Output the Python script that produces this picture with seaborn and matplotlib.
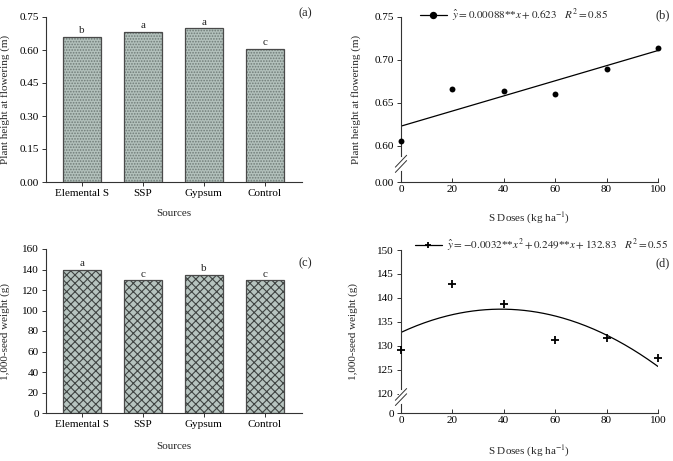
import numpy as np
import pandas as pd
import seaborn as sns
import matplotlib as mpl
import matplotlib.pyplot as plt
from matplotlib.lines import Line2D
from matplotlib.patches import Rectangle

mpl.use('Agg')

# ---- data ----
sources = ['Elemental S', 'SSP', 'Gypsum', 'Control']
height_src = [0.660, 0.683, 0.699, 0.606]
height_letters = ['b', 'a', 'a', 'c']
seedw_src = [139.8, 129.4, 134.9, 129.4]
seedw_letters = ['a', 'c', 'b', 'c']

doses = [0, 20, 40, 60, 80, 100]
height_dose = [0.606, 0.666, 0.664, 0.660, 0.690, 0.714]
seedw_dose = [129.2, 142.9, 138.8, 131.3, 131.6, 127.4]

# fitted equations printed in the panels
coef_height = [0.00088, 0.623]
coef_seedw = [-0.0032, 0.249, 132.83]
eq_height = r'$\hat{y} = 0.00088$**$x + 0.623$   $R^2 = 0.85$'
eq_seedw = r'$\hat{y} = -0.0032$**$x^2 + 0.249$**$x + 132.83$   $R^2 = 0.55$'

sns.set_style('ticks')
plt.rcParams['font.family'] = ['Liberation Serif', 'DejaVu Serif']
plt.rcParams['mathtext.fontset'] = 'stix'
plt.rcParams['axes.linewidth'] = 0.8
plt.rcParams['axes.edgecolor'] = '#333333'
plt.rcParams['hatch.linewidth'] = 0.8
FS = 8

W, H = 673, 461
fig = plt.figure(figsize=(W / 100, H / 100), dpi=100)


def px_axes(l, t, r, b):
    return fig.add_axes([l / W, 1 - b / H, (r - l) / W, (b - t) / H])


def style_axes(ax):
    sns.despine(ax=ax)
    ax.tick_params(axis='both', labelsize=FS, length=3, width=0.7, colors='#333333',
                   labelcolor='black', pad=2)


def bar_panel(ax, values, letters, hatch, fill, hatch_col, ylabel, ylim, yticks, fmt):
    sns.barplot(x=sources, y=values, ax=ax, color=fill, saturation=1, width=0.62,
                linewidth=0, edgecolor=hatch_col)
    for p in list(ax.patches):
        p.set_hatch(hatch)
        p.set_edgecolor(hatch_col)
        p.set_linewidth(0)
        ax.add_patch(Rectangle(p.get_xy(), p.get_width(), p.get_height(), fill=False,
                               ec='#4a4a4a', lw=0.9, zorder=3))
    for i, (v, lt) in enumerate(zip(values, letters)):
        ax.annotate(lt, (i, v), xytext=(0, 1), textcoords='offset points',
                    ha='center', va='bottom', fontsize=FS)
    ax.set_xlim(-0.59, 3.61)
    ax.set_ylim(*ylim)
    ax.set_yticks(yticks)
    ax.set_yticklabels([format(t, fmt) for t in yticks])
    style_axes(ax)
    ax.set_xlabel('Sources', fontsize=FS)
    ax.set_ylabel(ylabel, fontsize=FS)


def add_break(ax, yfrac):
    # white gap in the spine and two slashes
    ax.plot([0, 0], [yfrac - 0.03, yfrac + 0.03], color='white', lw=3,
            transform=ax.transAxes, clip_on=False, zorder=5)
    dx, dy = 0.022, 0.036
    for off in (-0.016, 0.016):
        ax.plot([-dx, dx], [yfrac + off - dy, yfrac + off + dy], color='#333333', lw=0.7,
                transform=ax.transAxes, clip_on=False, zorder=6)


def dose_panel(ax, yvals, coef, marker, msize, eq, ylabel, ylim, yticks, ylabels,
               brk, leg_xy):
    xs = np.linspace(0, 100, 201)
    sns.lineplot(x=xs, y=np.polyval(coef, xs), ax=ax, color='black', lw=0.9)
    sns.scatterplot(x=doses, y=yvals, ax=ax, marker=marker, s=msize, color='black',
                    linewidth=1.3 if marker == '+' else 0, clip_on=False, zorder=4)
    ax.set_xlim(0, 100)
    ax.set_xticks(doses)
    ax.set_ylim(*ylim)
    ax.set_yticks(yticks)
    ax.set_yticklabels(ylabels)
    style_axes(ax)
    ax.tick_params(axis='x', direction='in')
    add_break(ax, brk)
    ax.set_xlabel('S Doses (kg ha$^{-1}$)', fontsize=FS)
    ax.set_ylabel(ylabel, fontsize=FS)
    h = Line2D([], [], color='black', lw=0.9, marker=marker, markersize=5 if marker == '+' else 4,
               mew=1.3)
    ax.legend([h], [eq], loc='center left', bbox_to_anchor=leg_xy, frameon=False,
              fontsize=FS, handlelength=2.4, handletextpad=0.5, borderpad=0,
              borderaxespad=0)


# (a)
ax_a = px_axes(46, 17, 302, 182)
bar_panel(ax_a, height_src, height_letters, '......', '#b3c1bc', '#6f7b77',
          'Plant height at flowering (m)', (0, 0.75), [0, 0.15, 0.30, 0.45, 0.60, 0.75], '.2f')
ax_a.xaxis.set_label_coords(0.5, -0.164)
ax_a.yaxis.set_label_coords(-0.14, 0.5)

# (c)
ax_c = px_axes(46, 249, 302, 413)
bar_panel(ax_c, seedw_src, seedw_letters, 'xxxx', '#b6c4bf', '#3f4442',
          '1,000-seed weight (g)', (0, 160), list(range(0, 161, 20)), 'd')
ax_c.xaxis.set_label_coords(0.5, -0.177)
ax_c.yaxis.set_label_coords(-0.14, 0.5)

# (b)
ax_b = px_axes(401, 17, 658, 182)
dose_panel(ax_b, height_dose, coef_height, 'o', 18, eq_height,
           'Plant height at flowering (m)', (0.558, 0.75),
           [0.558, 0.60, 0.65, 0.70, 0.75], ['0.00', '0.60', '0.65', '0.70', '0.75'],
           0.11, (0.074, 1.012))
ax_b.xaxis.set_label_coords(0.5, -0.176)
ax_b.yaxis.set_label_coords(-0.156, 0.5)

# (d)
ax_d = px_axes(401, 250, 658, 413)
dose_panel(ax_d, seedw_dose, coef_seedw, '+', 40, eq_seedw,
           '1,000-seed weight (g)', (116.04, 150),
           [116.04, 120, 125, 130, 135, 140, 145, 150], ['0'] + [str(v) for v in range(120, 151, 5)],
           0.098, (0.054, 1.03))
ax_d.xaxis.set_label_coords(0.5, -0.19)
ax_d.yaxis.set_label_coords(-0.167, 0.5)

for lab, x, y in [('(a)', 305, 13), ('(b)', 663, 15), ('(c)', 305, 263), ('(d)', 663, 263)]:
    fig.text(x / W, 1 - y / H, lab, ha='center', va='center', fontsize=9)

fig.savefig('out.png', dpi=100)
